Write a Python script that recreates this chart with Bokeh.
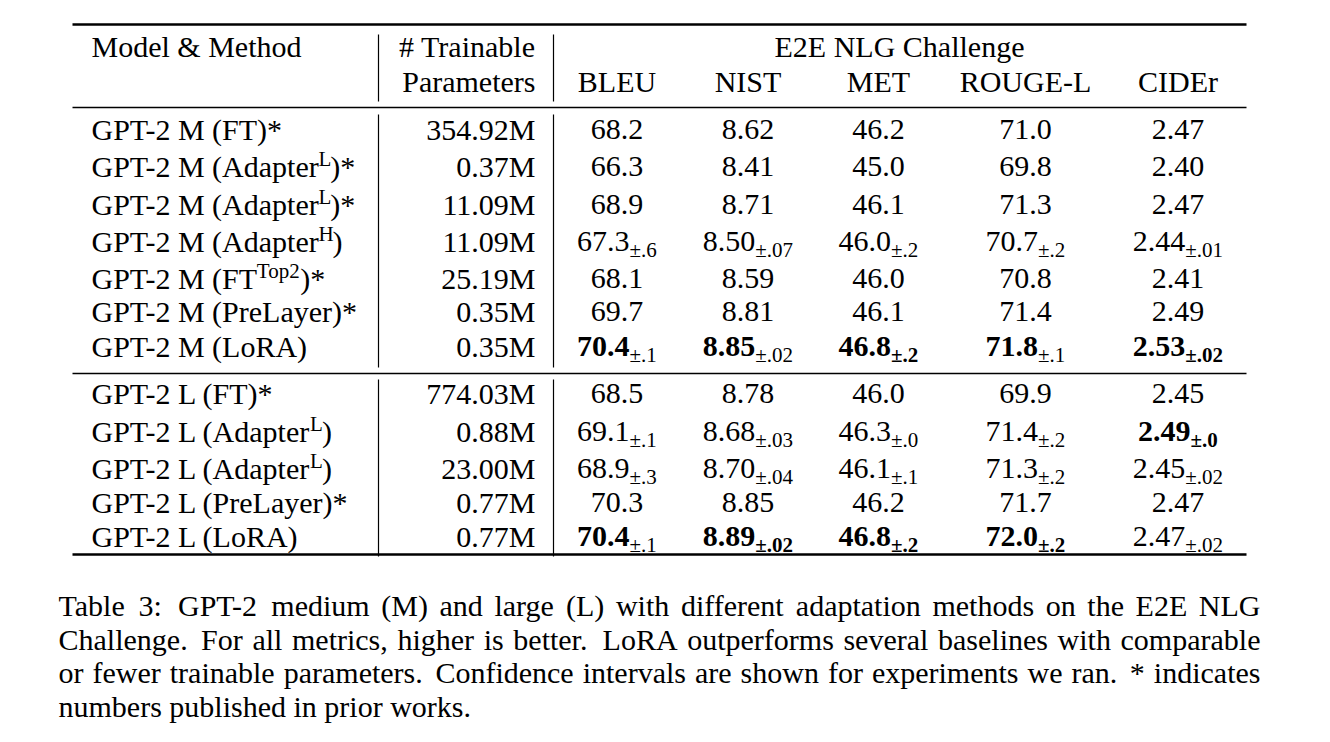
import re
import string
from bokeh.plotting import figure
from bokeh.models import Range1d, ColumnDataSource
from bokeh.core.properties import value
from bokeh.embed import file_html
from bokeh.resources import INLINE

# ---------------- data ----------------
methods = ["GPT-2 M (FT)*", "GPT-2 M (Adapter^{L})*", "GPT-2 M (Adapter^{L})*",
           "GPT-2 M (Adapter^{H})", "GPT-2 M (FT^{Top2})*", "GPT-2 M (PreLayer)*",
           "GPT-2 M (LoRA)",
           "GPT-2 L (FT)*", "GPT-2 L (Adapter^{L})", "GPT-2 L (Adapter^{L})",
           "GPT-2 L (PreLayer)*", "GPT-2 L (LoRA)"]
params = ["354.92M", "0.37M", "11.09M", "11.09M", "25.19M", "0.35M", "0.35M",
          "774.03M", "0.88M", "23.00M", "0.77M", "0.77M"]
metrics = ["BLEU", "NIST", "MET", "ROUGE-L", "CIDEr"]
decimals = [1, 2, 1, 1, 2]

bleu = [68.2, 66.3, 68.9, 67.3, 68.1, 69.7, 70.4, 68.5, 69.1, 68.9, 70.3, 70.4]
bleu_ci = ["", "", "", ".6", "", "", ".1", "", ".1", ".3", "", ".1"]
nist = [8.62, 8.41, 8.71, 8.50, 8.59, 8.81, 8.85, 8.78, 8.68, 8.70, 8.85, 8.89]
nist_ci = ["", "", "", ".07", "", "", ".02", "", ".03", ".04", "", ".02"]
met = [46.2, 45.0, 46.1, 46.0, 46.0, 46.1, 46.8, 46.0, 46.3, 46.1, 46.2, 46.8]
met_ci = ["", "", "", ".2", "", "", ".2", "", ".0", ".1", "", ".2"]
rouge = [71.0, 69.8, 71.3, 70.7, 70.8, 71.4, 71.8, 69.9, 71.4, 71.3, 71.7, 72.0]
rouge_ci = ["", "", "", ".2", "", "", ".1", "", ".2", ".2", "", ".2"]
cider = [2.47, 2.40, 2.47, 2.44, 2.41, 2.49, 2.53, 2.45, 2.49, 2.45, 2.47, 2.47]
cider_ci = ["", "", "", ".01", "", "", ".02", "", ".0", ".02", "", ".02"]

bleu_bold = [0, 0, 0, 0, 0, 0, 1, 0, 0, 0, 0, 1]
nist_bold = [0, 0, 0, 0, 0, 0, 1, 0, 0, 0, 0, 1]
met_bold = [0, 0, 0, 0, 0, 0, 1, 0, 0, 0, 0, 1]
rouge_bold = [0, 0, 0, 0, 0, 0, 1, 0, 0, 0, 0, 1]
cider_bold = [0, 0, 0, 0, 0, 0, 1, 0, 1, 0, 0, 0]

bleu_subbold = [0, 0, 0, 0, 0, 0, 0, 0, 0, 0, 0, 0]
nist_subbold = [0, 0, 0, 0, 0, 0, 0, 0, 0, 0, 0, 1]
met_subbold = [0, 0, 0, 0, 0, 0, 1, 0, 0, 0, 0, 1]
rouge_subbold = [0, 0, 0, 0, 0, 0, 0, 0, 0, 0, 0, 1]
cider_subbold = [0, 0, 0, 0, 0, 0, 1, 0, 1, 0, 0, 0]

header_model = "Model & Method"
header_params = ["# Trainable", "Parameters"]
header_group = "E2E NLG Challenge"

caption_lines = [
    "Table 3: GPT-2 medium (M) and large (L) with different adaptation methods on the E2E NLG",
    "Challenge. For all metrics, higher is better. LoRA outperforms several baselines with comparable",
    "or fewer trainable parameters. Confidence intervals are shown for experiments we ran. * indicates",
    "numbers published in prior works.",
]

values = [bleu, nist, met, rouge, cider]
cis = [bleu_ci, nist_ci, met_ci, rouge_ci, cider_ci]
bolds = [bleu_bold, nist_bold, met_bold, rouge_bold, cider_bold]
subbolds = [bleu_subbold, nist_subbold, met_subbold, rouge_subbold, cider_subbold]

# ---------------- layout ----------------
FONT = "Liberation Serif"
MAIN = 30
SCRIPT = 21
CAP = 30
SUP_UP = 11
SUP_KERN = 3
SUB_DOWN = 5
TEXT_SHIFT = 11.0 / 30.0   # empirical baseline correction (per px of font size)

row_base = [140, 177, 215, 252, 289, 322, 357, 404, 442, 479, 513, 547]
col_cx = [616.5, 747.5, 878, 1025, 1177.5]
model_x = 91
params_right = 535
head_base = [57, 92]
group_cx = 899
table_l, table_r = 72, 1246
vlines_x = [378, 553]
vseg = [(34, 101), (114, 367), (379, 556)]
rules = [(24, 2.6), (107, 1.5), (373, 1.3), (554, 2.6)]
cap_left, cap_right = 58, 1260
cap_base = [616, 649.5, 683, 716.5]

# Times metrics (per 1000 em)
TR = dict(zip(" !\"#$%&'()*+,-./0123456789:;<=>?@",
              [250, 333, 408, 500, 500, 833, 778, 333, 333, 333, 500, 564, 250, 333, 250, 278]
              + [500] * 10 + [278, 278, 564, 564, 564, 444, 921]))
TR.update(zip(string.ascii_uppercase,
              [722, 667, 667, 722, 611, 556, 722, 722, 333, 389, 722, 611, 889, 722, 722, 556,
               722, 667, 556, 611, 722, 722, 944, 722, 722, 611]))
TR.update(zip(string.ascii_lowercase,
              [444, 500, 444, 500, 444, 333, 500, 500, 278, 278, 500, 278, 778, 500, 500, 500,
               500, 333, 389, 278, 500, 500, 722, 500, 500, 444]))
TR["±"] = 564
TB = dict(TR)
TB["±"] = 570


def tw(s, size, bold=False):
    t = TB if bold else TR
    return sum(t.get(c, 500) for c in s) * size / 1000.0


buckets = {}


def put(x, y, s, size, bold=False, align="left"):
    key = (size, bold, align)
    b = buckets.setdefault(key, {"x": [], "y": [], "text": []})
    b["x"].append(x)
    b["y"].append(y - TEXT_SHIFT * size)
    b["text"].append(s)


W, H = 1314, 726
p = figure(width=W, height=H, x_range=Range1d(0, W), y_range=Range1d(H, 0),
           output_backend="svg", toolbar_location=None, min_border=0,
           x_axis_location=None, y_axis_location=None)
p.grid.visible = False
p.outline_line_color = None
p.background_fill_color = "white"
p.border_fill_color = "white"

# rules
p.segment(x0=[table_l] * len(rules), x1=[table_r] * len(rules),
          y0=[r[0] for r in rules], y1=[r[0] for r in rules],
          line_width=[r[1] for r in rules], line_color="black")
vx0, vy0, vy1 = [], [], []
for vx in vlines_x:
    for a, b in vseg:
        vx0.append(vx)
        vy0.append(a)
        vy1.append(b)
p.segment(x0=vx0, x1=vx0, y0=vy0, y1=vy1, line_width=1.2, line_color="black")

# header
put(model_x, head_base[0], header_model, MAIN)
put(params_right, head_base[0], header_params[0], MAIN, align="right")
put(params_right, head_base[1], header_params[1], MAIN, align="right")
put(group_cx, head_base[0], header_group, MAIN, align="center")
for j, m in enumerate(metrics):
    put(col_cx[j], head_base[1], m, MAIN, align="center")

# body
for i, name in enumerate(methods):
    yb = row_base[i]
    parts = re.split(r"\^\{([^}]*)\}", name)
    cx = model_x
    for k, part in enumerate(parts):
        if not part:
            continue
        if k % 2 == 0:
            put(cx, yb, part, MAIN)
            cx += tw(part, MAIN)
        else:
            cx -= SUP_KERN
            put(cx, yb - SUP_UP, part, SCRIPT)
            cx += tw(part, SCRIPT) - 1
    put(params_right, yb, params[i], MAIN, align="right")
    for j in range(len(metrics)):
        main = f"{values[j][i]:.{decimals[j]}f}"
        bold = bool(bolds[j][i])
        ci = cis[j][i]
        sb = bool(subbolds[j][i])
        wm = tw(main, MAIN, bold)
        sub = "±" + ci if ci else ""
        ws = tw(sub, SCRIPT, sb) if ci else 0
        x0 = col_cx[j] - (wm + ws) / 2
        put(x0, yb, main, MAIN, bold)
        if ci:
            put(x0 + wm, yb + SUB_DOWN, sub, SCRIPT, sb)

# caption (justified)
for li, line in enumerate(caption_lines):
    words = line.split(" ")
    widths = [tw(w, CAP) for w in words]
    yb = cap_base[li]
    if li < len(caption_lines) - 1:
        weights = [1.4 if w[-1] in ".:" else 1.0 for w in words[:-1]]
        gap_total = (cap_right - cap_left) - sum(widths)
        unit = gap_total / sum(weights)
        x = cap_left
        for k, w in enumerate(words):
            put(x, yb, w, CAP)
            if k < len(weights):
                x += widths[k] + unit * weights[k]
    else:
        x = cap_left
        for k, w in enumerate(words):
            put(x, yb, w, CAP)
            x += widths[k] + tw(" ", CAP)

for (size, bold, align), d in buckets.items():
    p.text(x="x", y="y", text="text", source=ColumnDataSource(d),
           text_font=value(FONT), text_font_size=f"{size}px",
           text_font_style="bold" if bold else "normal",
           text_align=align, text_baseline="alphabetic", text_color="black")

open("out.html", "w").write(file_html(p, INLINE))
